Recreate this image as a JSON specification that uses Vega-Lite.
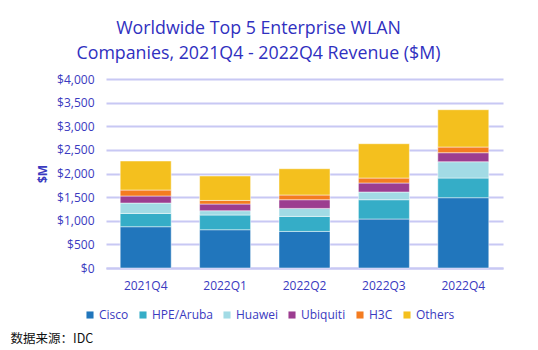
{
  "$schema": "https://vega.github.io/schema/vega-lite/v6.json",
  "background": "white",
  "padding": {"left": 10, "top": 20, "right": 5, "bottom": 2},
  "title": {"text": "数据来源：IDC", "orient": "bottom", "anchor": "start", "font": "Noto Sans CJK SC", "fontSize": 12.5, "fontWeight": "normal", "color": "#111111", "offset": 12, "dx": -26},
  "config": {
    "font": "Open Sans",
    "view": {"stroke": null},
    "axis": {"labelFont": "Open Sans", "titleFont": "Open Sans", "labelColor": "#3a3ac0", "titleColor": "#3a3ac0"}
  },
  "data": {
    "values": [
      {"quarter": "2021Q4", "company": "Cisco", "revenue": 874},
      {"quarter": "2021Q4", "company": "HPE/Aruba", "revenue": 281},
      {"quarter": "2021Q4", "company": "Huawei", "revenue": 220},
      {"quarter": "2021Q4", "company": "Ubiquiti", "revenue": 149},
      {"quarter": "2021Q4", "company": "H3C", "revenue": 126},
      {"quarter": "2021Q4", "company": "Others", "revenue": 614},
      {"quarter": "2022Q1", "company": "Cisco", "revenue": 810},
      {"quarter": "2022Q1", "company": "HPE/Aruba", "revenue": 311},
      {"quarter": "2022Q1", "company": "Huawei", "revenue": 91},
      {"quarter": "2022Q1", "company": "Ubiquiti", "revenue": 142},
      {"quarter": "2022Q1", "company": "H3C", "revenue": 76},
      {"quarter": "2022Q1", "company": "Others", "revenue": 517},
      {"quarter": "2022Q2", "company": "Cisco", "revenue": 774},
      {"quarter": "2022Q2", "company": "HPE/Aruba", "revenue": 318},
      {"quarter": "2022Q2", "company": "Huawei", "revenue": 169},
      {"quarter": "2022Q2", "company": "Ubiquiti", "revenue": 184},
      {"quarter": "2022Q2", "company": "H3C", "revenue": 100},
      {"quarter": "2022Q2", "company": "Others", "revenue": 556},
      {"quarter": "2022Q3", "company": "Cisco", "revenue": 1037},
      {"quarter": "2022Q3", "company": "HPE/Aruba", "revenue": 408},
      {"quarter": "2022Q3", "company": "Huawei", "revenue": 163},
      {"quarter": "2022Q3", "company": "Ubiquiti", "revenue": 191},
      {"quarter": "2022Q3", "company": "H3C", "revenue": 105},
      {"quarter": "2022Q3", "company": "Others", "revenue": 726},
      {"quarter": "2022Q4", "company": "Cisco", "revenue": 1488},
      {"quarter": "2022Q4", "company": "HPE/Aruba", "revenue": 416},
      {"quarter": "2022Q4", "company": "Huawei", "revenue": 345},
      {"quarter": "2022Q4", "company": "Ubiquiti", "revenue": 191},
      {"quarter": "2022Q4", "company": "H3C", "revenue": 120},
      {"quarter": "2022Q4", "company": "Others", "revenue": 790}
    ]
  },
  "vconcat": [
    {
      "width": 397,
      "height": 189,
      "title": {
        "text": ["Worldwide Top 5 Enterprise WLAN", "Companies, 2021Q4 - 2022Q4 Revenue ($M)"],
        "font": "Open Sans",
        "fontSize": 17.8,
        "fontWeight": "normal",
        "color": "#3030c0",
        "lineHeight": 25,
        "anchor": "middle",
        "dx": -46,
        "offset": 10
      },
      "transform": [
        {"calculate": "indexof(['Cisco','HPE/Aruba','Huawei','Ubiquiti','H3C','Others'], datum.company)", "as": "stackRank"}
      ],
      "mark": {"type": "bar", "width": 51, "stroke": "#ffffff", "strokeWidth": 0.8, "strokeOpacity": 0.6},
      "encoding": {
        "x": {
          "field": "quarter",
          "type": "nominal",
          "title": null,
          "axis": {"labelAngle": 0, "labelFontSize": 12, "ticks": false, "labelPadding": 12, "domainColor": "#c8c8f4", "domainWidth": 2}
        },
        "y": {
          "field": "revenue",
          "type": "quantitative",
          "aggregate": "sum",
          "stack": "zero",
          "title": "$M",
          "scale": {"domain": [0, 4000]},
          "axis": {
            "values": [0, 500, 1000, 1500, 2000, 2500, 3000, 3500, 4000],
            "format": "$,.0f",
            "labelFontSize": 12,
            "labelPadding": 12,
            "ticks": false,
            "domain": false,
            "gridColor": "#c8c8f4",
            "gridWidth": 2,
            "titleFontSize": 12,
            "titlePadding": 7,
            "titleFontWeight": "bold"
          }
        },
        "order": {"field": "stackRank", "type": "quantitative", "sort": "ascending"},
        "color": {
          "field": "company",
          "type": "nominal",
          "scale": {
            "domain": ["Cisco", "HPE/Aruba", "Huawei", "Ubiquiti", "H3C", "Others"],
            "range": ["#2176bc", "#35adc7", "#a2dbe5", "#9c3d90", "#f47c20", "#f4c01e"]
          },
          "legend": {
            "title": null,
            "orient": "none",
            "direction": "horizontal",
            "legendX": -22,
            "legendY": 230,
            "symbolType": "square",
            "symbolSize": 50,
            "symbolStrokeWidth": 0,
            "labelFontSize": 12,
            "labelColor": "#3a3ac0",
            "labelFont": "Open Sans",
            "labelOffset": 3,
            "columnPadding": 8
          }
        }
      }
    }
  ]
}
